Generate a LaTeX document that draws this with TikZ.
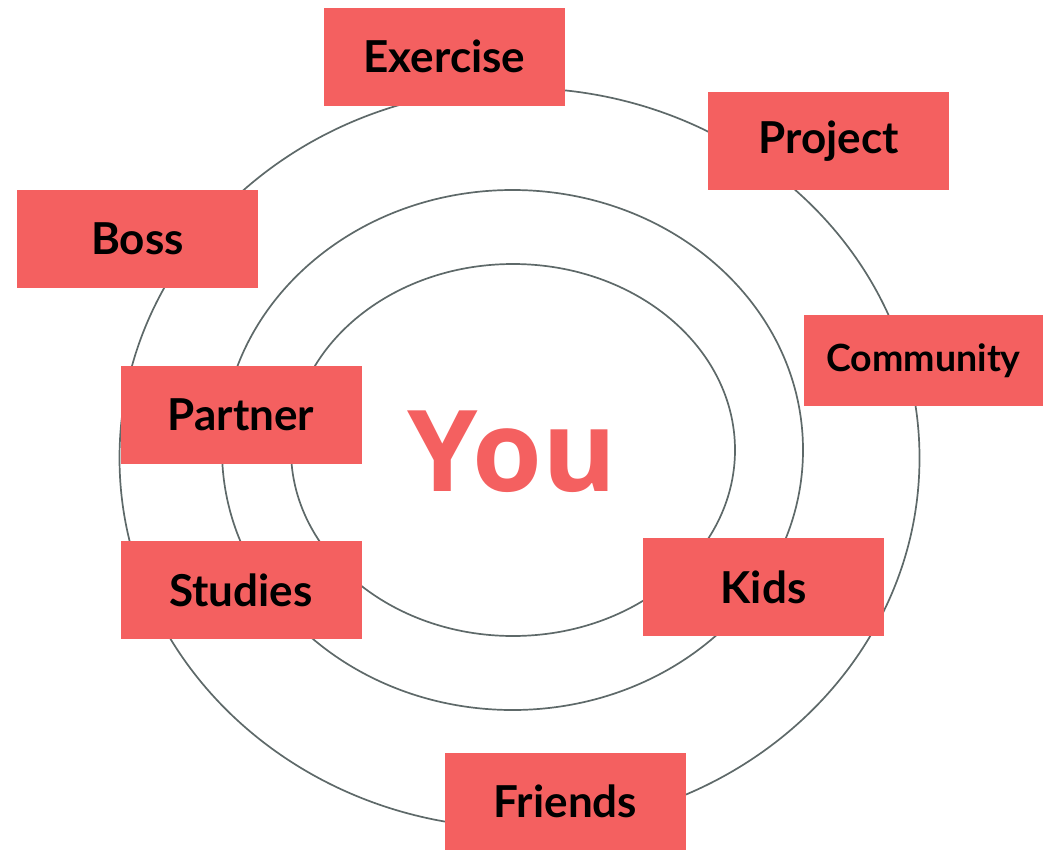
\documentclass[tikz,border=0pt]{standalone}
\usepackage{fontspec}
\setmainfont{Lato}
\newfontfamily\youfont{Open Sans}
\definecolor{boxred}{HTML}{F46060}
\definecolor{ringgray}{HTML}{5E6969}
\newcommand{\lowered}[1]{\raisebox{-2pt}{#1}}
\begin{document}
\begin{tikzpicture}[x=1pt,y=-1pt,
  ring/.style={draw=ringgray,line width=1.7pt},
  label/.style={rectangle,fill=boxred,minimum width=241pt,minimum height=98pt,inner sep=0pt,
    font=\fontsize{44}{46}\selectfont\bfseries,text=black}]
\useasboundingbox (0,0) rectangle (1043,849);
\draw[ring] (519.5,458) ellipse [x radius=400, y radius=370];
\draw[ring] (512.5,450) ellipse [x radius=290.5, y radius=260];
\draw[ring] (513,450) ellipse [x radius=222, y radius=186];
\node[label] (exercise) at (444.5,56.5) {\lowered{Exercise}};
\node[label] (project) at (828.5,141) {\lowered{Project}};
\node[label] (boss) at (137.5,239) {\lowered{Boss}};
\node[label,minimum width=239pt,minimum height=91pt,font=\fontsize{37.5}{40}\selectfont\bfseries] (community) at (923.5,360.5) {\lowered{Community}};
\node[label] (partner) at (241,414.5) {\lowered{Partner}};
\node[label] (studies) at (241,590) {\lowered{Studies}};
\node[label] (kids) at (763.5,587) {\lowered{Kids}};
\node[label] (friends) at (565.5,801.5) {\lowered{Friends}};
\node[text=boxred,inner sep=0pt,font=\youfont\fontsize{113}{120}\selectfont\bfseries] (you) at (512,452) {You};
\end{tikzpicture}
\end{document}
